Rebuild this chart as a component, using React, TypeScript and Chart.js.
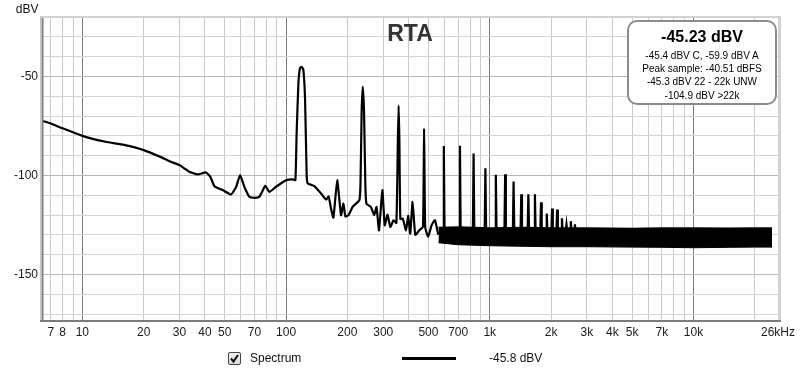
import React, { useEffect, useRef } from 'react';
import { Chart, registerables } from 'chart.js';

Chart.register(...registerables);

// Main trace: low-frequency noise floor with mains hum and harmonics 1-4
const mainFreq = [
  6.41, 7, 8, 10, 13, 16, 20, 24, 27, 30, 33.5, 36.8, 40.5, 42.5, 44.5, 48.9, 53.7, 56.9, 59.5, 62.4,
  66.1, 69.9, 74, 79.1, 82.8, 89.3, 100, 107.8, 111.1, 112.7, 115, 117.1, 119.3, 121.6, 124, 126.2,
  127.7, 137.7, 148.5, 157.2, 161.8, 166.2, 170.8, 178.3, 186.2, 191.3, 195.6, 202.7, 212.2, 229,
  232, 235, 238, 241.5, 245, 248, 261, 271, 278, 286, 297, 305, 315, 325, 337, 348, 354, 357, 360,
  364, 374, 388, 398, 407, 418, 431, 451, 470, 476, 482, 498, 518, 538, 559,
];
const mainDb = [
  -72.5, -73.8, -76.2, -80, -83, -84.6, -87.2, -90.5, -93, -94.8, -98.1, -99.5, -98.5, -100.7, -105.4, -107.4, -109.6, -105.7, -99.8, -105.7,
  -110.8, -111.3, -110.8, -105.2, -108.3, -105.7, -102.4, -102, -102.4, -78.7, -53.4, -45.7, -45.2, -46.6, -61.8, -99,
  -104, -105.4, -109.1, -112.2, -110.6, -116.7, -121.3, -102.4, -120.1, -114.2, -120.7, -120, -115.9, -112.5,
  -104, -68, -55.1, -68, -104, -114.2, -116, -120, -115.9, -127.7, -107.4, -125.2, -119.8, -126, -122.6, -124, -82, -64.7, -82,
  -122, -121.8, -127.7, -120.4, -129.4, -113.3, -130, -127.7, -126, -76.4, -126, -131, -125.2, -122.6, -130,
];

// Dense noise floor band (upper / lower envelope)
const bandFreq = [560, 700, 1000, 1500, 2000, 3000, 5000, 7000, 10000, 15000, 20000, 24300];
const bandTop = [-126.3, -126, -126.5, -126.3, -126.5, -126.5, -126.8, -126.5, -126.5, -126.7, -126.5, -126.5];
const bandBottom = [-134, -135, -135.5, -135.8, -136, -136, -136.2, -136.3, -136.5, -136.3, -136.2, -136.2];

// Harmonic spikes rising from the floor
const fundamentalHz = 119;
const harmonicOrder = [5, 6, 7, 8, 9, 10, 11, 12, 13, 14, 15, 16, 17, 18, 19, 20, 21, 22];
const harmonicDb = [-85.1, -85, -88.9, -96.4, -99.6, -99.4, -103.1, -109.5, -109.5, -109.5, -113.5, -119.2, -116.7, -117.2, -121.6, -124.7, -123.1, -124.7];
const harmonicBaseDb = -128;

// Axes
const xGridHz = [
  7, 8, 9, 10, 20, 30, 40, 50, 60, 70, 80, 90, 100, 200, 300, 400, 500, 600, 700, 800, 900,
  1000, 2000, 3000, 4000, 5000, 6000, 7000, 8000, 9000, 10000, 20000, 26000,
];
const xLabels: Record<number, string> = {
  7: '7', 8: '8', 10: '10', 20: '20', 30: '30', 40: '40', 50: '50', 70: '70', 100: '100', 200: '200',
  300: '300', 500: '500', 700: '700', 1000: '1k', 2000: '2k', 3000: '3k', 4000: '4k', 5000: '5k',
  7000: '7k', 10000: '10k', 26000: '26kHz',
};
const xDecades = [10, 100, 1000, 10000];
const yGridDb = [-170, -160, -150, -140, -130, -120, -110, -100, -90, -80, -70, -60, -50, -40, -30, -20];
const yLabelDb = [-50, -100, -150];

const FONT = '"Liberation Sans", Arial, Helvetica, sans-serif';

const framePlugin = {
  id: 'frame',
  afterDraw(chart: any) {
    const { ctx, chartArea } = chart;
    const { left, top, right, bottom } = chartArea;
    ctx.save();
    ctx.fillStyle = '#d2d2d2';
    ctx.fillRect(left - 3, top - 2, right - left + 6, 2);
    ctx.fillRect(right, top - 2, 3, bottom - top + 4);
    ctx.fillStyle = '#c4c4c4';
    ctx.fillRect(left - 3, top - 2, 2, bottom - top + 4);
    ctx.fillStyle = '#7c7c7c';
    ctx.fillRect(left - 1, top, 1.5, bottom - top + 1);
    ctx.fillRect(left - 3, bottom, right - left + 6, 2);
    ctx.restore();
  },
};

export default function App() {
  const ref = useRef<HTMLCanvasElement>(null);

  useEffect(() => {
    const mainData = mainFreq.map((f, i) => ({ x: f, y: mainDb[i] }));
    const topData = bandFreq.map((f, i) => ({ x: f, y: bandTop[i] }));
    const bottomData = bandFreq.map((f, i) => ({ x: f, y: bandBottom[i] }));
    const spikeData: { x: number; y: number | null }[] = [];
    const w = 0.008;
    harmonicOrder.forEach((n, i) => {
      const f = n * fundamentalHz;
      spikeData.push({ x: f * (1 - w), y: harmonicBaseDb });
      spikeData.push({ x: f, y: harmonicDb[i] });
      spikeData.push({ x: f * (1 + w), y: harmonicBaseDb });
      spikeData.push({ x: f * (1 + 2 * w), y: null });
    });

    const chart = new Chart(ref.current as HTMLCanvasElement, {
      type: 'line',
      data: {
        datasets: [
          {
            data: bottomData,
            borderColor: '#000',
            borderWidth: 1,
            pointRadius: 0,
            fill: false,
          },
          {
            data: topData,
            borderColor: '#000',
            borderWidth: 1.5,
            pointRadius: 0,
            backgroundColor: '#000',
            fill: '-1',
          },
          {
            data: spikeData,
            borderColor: '#000',
            borderWidth: 2.2,
            pointRadius: 0,
            spanGaps: false,
            fill: false,
          },
          {
            data: mainData,
            borderColor: '#000',
            borderWidth: 2.2,
            pointRadius: 0,
            tension: 0.15,
            fill: false,
          },
        ],
      },
      options: {
        responsive: false,
        animation: false,
        devicePixelRatio: 1,
        layout: { padding: { top: 18, right: 22, left: 0, bottom: 0 } },
        plugins: {
          legend: { display: false },
          tooltip: { enabled: false },
          title: { display: false },
        },
        scales: {
          x: {
            type: 'logarithmic',
            min: 6.41,
            max: 26000,
            afterBuildTicks: (scale: any) => {
              scale.ticks = xGridHz.map((v) => ({ value: v }));
            },
            afterFit: (scale: any) => {
              scale.height = 52;
            },
            ticks: {
              autoSkip: false,
              maxRotation: 0,
              minRotation: 0,
              padding: 5,
              color: '#1a1a1a',
              font: { family: FONT, size: 12 },
              callback: (value: any) => xLabels[Number(value)] ?? '',
            },
            grid: {
              drawTicks: false,
              lineWidth: 1,
              color: (ctx: any) => {
                const v = ctx.tick?.value;
                if (v === 26000) return 'rgba(0,0,0,0)';
                return xDecades.includes(v) ? '#7a7a7a' : '#c8c8c8';
              },
            },
            border: { display: false },
          },
          y: {
            type: 'linear',
            min: -173,
            max: -20.5,
            afterBuildTicks: (scale: any) => {
              scale.ticks = yGridDb.map((v) => ({ value: v }));
            },
            afterFit: (scale: any) => {
              scale.width = 43;
            },
            ticks: {
              autoSkip: false,
              padding: 5,
              color: '#1a1a1a',
              font: { family: FONT, size: 12 },
              callback: (value: any) => (yLabelDb.includes(Number(value)) ? String(value) : ''),
            },
            grid: {
              drawTicks: false,
              lineWidth: 1,
              color: (ctx: any) => (yLabelDb.includes(ctx.tick?.value) ? '#b8b8b8' : '#d4d4d4'),
            },
            border: { display: false },
          },
        },
      },
      plugins: [framePlugin],
    } as any);

    return () => chart.destroy();
  }, []);

  const abs = (o: React.CSSProperties): React.CSSProperties => ({ position: 'absolute', whiteSpace: 'nowrap', ...o });

  return (
    <div style={{ position: 'absolute', left: 0, top: 0, width: 800, height: 372, background: '#fff', fontFamily: FONT, color: '#111', overflow: 'hidden' }}>
      <canvas ref={ref} width={800} height={372} style={{ position: 'absolute', left: 0, top: 0, width: 800, height: 372 }} />
      <div style={abs({ left: 0, width: 38.5, top: 2.5, fontSize: 12, lineHeight: '12px', textAlign: 'right' })}>dBV</div>
      <div style={abs({ left: 360, width: 100, top: 22, fontSize: 23, lineHeight: '23px', fontWeight: 'bold', textAlign: 'center', color: '#333' })}>RTA</div>
      <div style={abs({ left: 627, top: 20, width: 150, height: 85, boxSizing: 'border-box', border: '2.5px solid #8c8c8c', borderRadius: 10, background: '#fff' })} />
      <div style={abs({ left: 627, width: 150, top: 28.8, fontSize: 16, lineHeight: '16px', fontWeight: 'bold', textAlign: 'center', color: '#000' })}>-45.23 dBV</div>
      <div style={abs({ left: 627, width: 150, top: 50.8, fontSize: 10, lineHeight: '10px', textAlign: 'center', color: '#000' })}>-45.4 dBV C, -59.9 dBV A</div>
      <div style={abs({ left: 627, width: 150, top: 63.8, fontSize: 10, lineHeight: '10px', textAlign: 'center', color: '#000' })}>Peak sample: -40.51 dBFS</div>
      <div style={abs({ left: 627, width: 150, top: 77.2, fontSize: 10, lineHeight: '10px', textAlign: 'center', color: '#000' })}>-45.3 dBV 22 - 22k UNW</div>
      <div style={abs({ left: 627, width: 150, top: 91.2, fontSize: 10, lineHeight: '10px', textAlign: 'center', color: '#000' })}>-104.9 dBV &gt;22k</div>
      <div style={abs({ left: 228, top: 352, width: 13, height: 13, boxSizing: 'border-box', border: '1px solid #444', borderRadius: 2, background: 'linear-gradient(#f4f4f4, #d8d8d8)' })}>
        <svg width="11" height="11" viewBox="0 0 11 11" style={{ position: 'absolute', left: 0, top: 0 }}>
          <path d="M2 5.5 L4.5 8.5 L9 2" stroke="#111" strokeWidth="2" fill="none" />
        </svg>
      </div>
      <div style={abs({ left: 250, top: 351.5, fontSize: 12, lineHeight: '12px' })}>Spectrum</div>
      <div style={abs({ left: 402, top: 357, width: 54, height: 2.5, background: '#000' })} />
      <div style={abs({ left: 489, top: 351.5, fontSize: 12, lineHeight: '12px' })}>-45.8 dBV</div>
    </div>
  );
}
